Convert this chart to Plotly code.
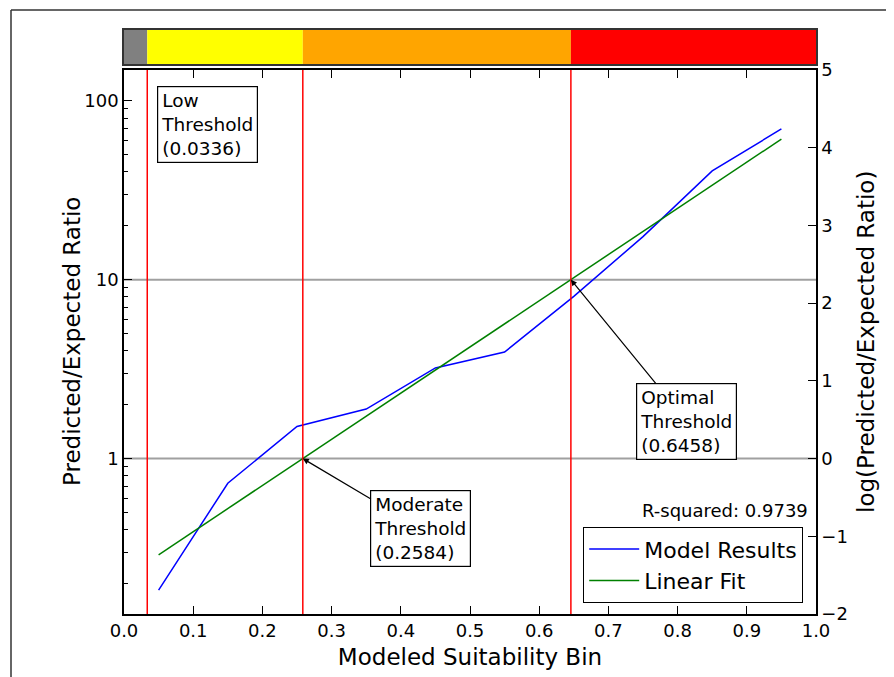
import numpy as np
import plotly.graph_objects as go

# ---- data ----
bins = [0.05, 0.15, 0.25, 0.35, 0.45, 0.55, 0.65, 0.75, 0.85, 0.95]
model_results = [0.184, 0.728, 1.51, 1.89, 3.21, 3.94, 8.06, 17.4, 40.5, 69.5]
linear_fit = [0.290, 0.525, 0.951, 1.724, 3.123, 5.659, 10.25, 18.58, 33.66, 61.0]

threshold_names = ["Low", "Moderate", "Optimal"]
threshold_values = [0.0336, 0.2584, 0.6458]
threshold_ratios = [None, 1, 10]

band_edges = [0.0, 0.0336, 0.2584, 0.6458, 1.0]
band_colors = ["#808080", "#ffff00", "#ffa500", "#ff0000"]

hlines = [1, 10]
r_squared = 0.9739

x_ticks = [round(0.1 * i, 1) for i in range(11)]
y_ticks = [1, 10, 100]
y_minor_ticks = [m * 10.0 ** e for e in (-1, 0, 1) for m in range(2, 10)]
y2_ticks = [-2, -1, 0, 1, 2, 3, 4, 5]

FONT = "DejaVu Sans"
D = 8  # page body margin offset
W, H = 894 - D, 677 - D
L, R, T, B = 124 - D, 78, 30 - D, 63
PW, PH = W - L - R, H - T - B


def px_x(px):
    return (px - D - L) / PW


def px_y(py):
    return (H - B - (py - D)) / PH


main_top = px_y(70)
bar_bot, bar_top = px_y(64), px_y(30)
y_range = [-2 / np.log(10), 5 / np.log(10)]

fig = go.Figure()

# colour band bar
fig.add_trace(go.Bar(
    y=[0.5] * len(band_colors),
    x=[band_edges[i + 1] - band_edges[i] for i in range(len(band_colors))],
    base=band_edges[:-1],
    orientation="h", width=1.0,
    marker=dict(color=band_colors, line=dict(width=0)),
    xaxis="x3", yaxis="y3", showlegend=False, hoverinfo="skip",
))

fig.add_trace(go.Scatter(
    x=bins, y=model_results, mode="lines", name="Model Results",
    line=dict(color="#0000ff", width=1.5),
))
fig.add_trace(go.Scatter(
    x=bins, y=linear_fit, mode="lines", name="Linear Fit",
    line=dict(color="#008000", width=1.5),
))
# invisible traces so the right (natural log) axis and minor-tick axis are drawn
fig.add_trace(go.Scatter(
    x=bins, y=np.log(model_results), mode="lines", yaxis="y2",
    line=dict(color="rgba(0,0,0,0)"), showlegend=False, hoverinfo="skip",
))
fig.add_trace(go.Scatter(
    x=bins, y=model_results, mode="lines", yaxis="y4",
    line=dict(color="rgba(0,0,0,0)"), showlegend=False, hoverinfo="skip",
))

shapes = []
for v in hlines:
    shapes.append(dict(type="line", xref="x domain", yref="y", x0=0, x1=1, y0=v, y1=v,
                       line=dict(color="#a0a0a0", width=2), layer="below"))
for v in threshold_values:
    shapes.append(dict(type="line", xref="x", yref="y domain", x0=v, x1=v, y0=0, y1=1,
                       line=dict(color="#ff0000", width=1.5)))
# outer screenshot frame (top & left)
shapes.append(dict(type="line", xref="paper", yref="paper", x0=px_x(11), x1=px_x(900),
                   y0=px_y(10), y1=px_y(10), line=dict(color="#333333", width=1.5)))
shapes.append(dict(type="line", xref="paper", yref="paper", x0=px_x(11), x1=px_x(11),
                   y0=px_y(10), y1=px_y(690), line=dict(color="#333333", width=1.5)))

ann_font = dict(family=FONT, size=18.5, color="black")
title_font = dict(family=FONT, size=23, color="black")
annotations = [
    dict(x=px_x(157), y=px_y(86), xref="paper", yref="paper", xanchor="left", yanchor="top",
         text=f"{threshold_names[0]}<br>Threshold<br>({threshold_values[0]:.4f})",
         showarrow=False, align="left", font=ann_font,
         bordercolor="black", borderwidth=1.2, borderpad=3, bgcolor="white"),
    dict(x=threshold_values[1], y=np.log10(threshold_ratios[1]), xref="x", yref="y",
         text=f"{threshold_names[1]}<br>Threshold<br>({threshold_values[1]:.4f})",
         showarrow=True, ax=118, ay=70, arrowhead=2, arrowsize=1, arrowwidth=1.2,
         arrowcolor="black", align="left", font=ann_font,
         bordercolor="black", borderwidth=1.2, borderpad=3, bgcolor="white"),
    dict(x=threshold_values[2], y=np.log10(threshold_ratios[2]), xref="x", yref="y",
         text=f"{threshold_names[2]}<br>Threshold<br>({threshold_values[2]:.4f})",
         showarrow=True, ax=116, ay=142, arrowhead=2, arrowsize=1, arrowwidth=1.2,
         arrowcolor="black", align="left", font=ann_font,
         bordercolor="black", borderwidth=1.2, borderpad=3, bgcolor="white"),
    dict(x=px_x(810), y=px_y(510), xref="paper", yref="paper", xanchor="right", yanchor="middle",
         text=f"R-squared: {r_squared}", showarrow=False,
         font=dict(family=FONT, size=18, color="black")),
    # axis titles
    dict(x=px_x(72), y=px_y(342), xref="paper", yref="paper", xanchor="center", yanchor="middle",
         text="Predicted/Expected Ratio", textangle=-90, showarrow=False, font=title_font),
    dict(x=px_x(866), y=px_y(342), xref="paper", yref="paper", xanchor="center", yanchor="middle",
         text="log(Predicted/Expected Ratio)", textangle=-90, showarrow=False, font=title_font),
]

tick_font = dict(family=FONT, size=18, color="black")

fig.update_layout(
    width=W, height=H,
    margin=dict(l=L, r=R, t=T, b=B, autoexpand=False),
    paper_bgcolor="white", plot_bgcolor="white",
    font=dict(family=FONT, color="black"),
    barmode="overlay",
    shapes=shapes, annotations=annotations,
    xaxis=dict(
        domain=[0, 1], range=[0, 1], anchor="y",
        tickvals=x_ticks, ticktext=[f"{v:.1f}" for v in x_ticks],
        ticks="inside", ticklen=8, tickwidth=1, tickcolor="black",
        showline=True, linecolor="black", linewidth=1.5, mirror="ticks",
        showgrid=False, zeroline=False, tickfont=tick_font,
        title=dict(text="Modeled Suitability Bin", font=title_font, standoff=9),
    ),
    yaxis=dict(
        domain=[0, main_top], type="log", range=y_range,
        tickvals=y_ticks, ticktext=[str(v) for v in y_ticks],
        ticks="inside", ticklen=8, tickwidth=1.2, tickcolor="black",
        showline=True, linecolor="black", linewidth=1.5, mirror=False,
        showgrid=False, zeroline=False, tickfont=tick_font,
    ),
    yaxis4=dict(
        overlaying="y", side="left", anchor="x", type="log", range=y_range,
        tickmode="array", tickvals=y_minor_ticks, showticklabels=False,
        ticks="inside", ticklen=4, tickwidth=1.2, tickcolor="black",
        showline=False, showgrid=False, zeroline=False,
    ),
    yaxis2=dict(
        overlaying="y", side="right", anchor="x", range=[-2, 5],
        tickvals=y2_ticks, ticktext=[str(v).replace("-", "\u2212") for v in y2_ticks],
        ticks="inside", ticklen=8, tickwidth=1.2, tickcolor="black",
        showline=True, linecolor="black", linewidth=1.5,
        showgrid=False, zeroline=False, tickfont=tick_font,
    ),
    xaxis3=dict(domain=[0, 1], range=[0, 1], anchor="y3", showticklabels=False, ticks="",
                showline=True, mirror=True, linecolor="#333333", linewidth=2,
                showgrid=False, zeroline=False),
    yaxis3=dict(domain=[bar_bot, bar_top], range=[0, 1], anchor="x3", showticklabels=False,
                ticks="", showline=True, mirror=True, linecolor="#333333", linewidth=2,
                showgrid=False, zeroline=False),
    legend=dict(x=px_x(803), y=px_y(603), xanchor="right", yanchor="bottom",
                bordercolor="black", borderwidth=1.2, bgcolor="white",
                font=dict(family=FONT, size=22, color="black"),
                itemwidth=50, tracegroupgap=2),
    showlegend=True,
)

fig.write_html("out.html")
